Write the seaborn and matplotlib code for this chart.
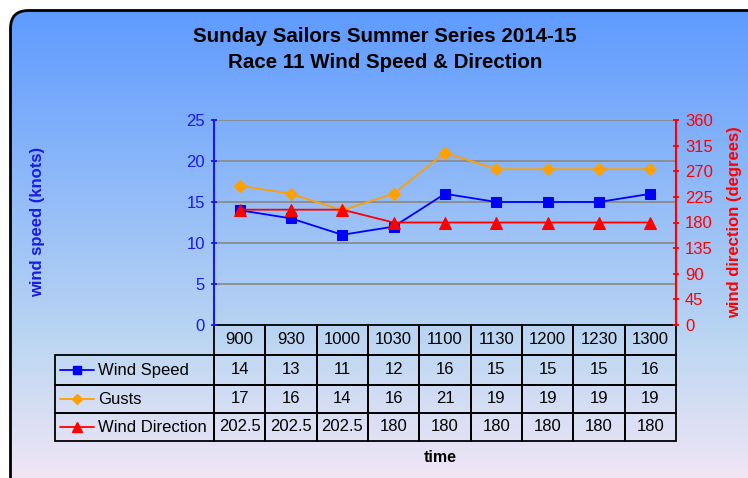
import numpy as np
import pandas as pd
import seaborn as sns
import matplotlib.pyplot as plt
from matplotlib.patches import FancyBboxPatch
from matplotlib.lines import Line2D
from matplotlib.table import Table

times = ["900", "930", "1000", "1030", "1100", "1130", "1200", "1230", "1300"]
wind_speed = [14, 13, 11, 12, 16, 15, 15, 15, 16]
gusts = [17, 16, 14, 16, 21, 19, 19, 19, 19]
wind_dir = [202.5, 202.5, 202.5, 180, 180, 180, 180, 180, 180]
series_names = ["Wind Speed", "Gusts", "Wind Direction"]

df = pd.DataFrame({"pos": range(len(times)), "time": times,
                   "speed": wind_speed, "gusts": gusts, "dir": wind_dir})

sns.set_style("white")
plt.rcParams["font.family"] = ["Liberation Sans", "DejaVu Sans"]
plt.rcParams["text.color"] = "black"

W, H = 748, 478
fig = plt.figure(figsize=(W / 100, H / 100), dpi=100)

# background with gradient inside a rounded border
bg = fig.add_axes([0, 0, 1, 1])
bg.set_xlim(0, W)
bg.set_ylim(H, 0)
bg.axis("off")
t = np.linspace(0, 1, 256)[:, None]
top = np.array([94, 154, 255]) / 255
mid = np.array([188, 214, 242]) / 255
bot = np.array([248, 232, 246]) / 255
grad = np.where(t < 0.68, top + (mid - top) * (t / 0.68), mid + (bot - mid) * ((t - 0.68) / 0.32))
grad = np.repeat(grad[:, None, :], 2, axis=1)
img = bg.imshow(grad, extent=[10, W + 20, H + 20, 10], aspect="auto", zorder=0)
box = FancyBboxPatch((10.5, 10.5), W + 30, H + 30, boxstyle="round,pad=0,rounding_size=18",
                     facecolor="none", edgecolor="black", linewidth=2, zorder=1)
bg.add_patch(box)
img.set_clip_path(box)

fig.text(385 / W, 1 - 37 / H, "Sunday Sailors Summer Series 2014-15", ha="center", va="center",
         fontsize=14.8, fontweight="bold")
fig.text(385 / W, 1 - 62 / H, "Race 11 Wind Speed & Direction", ha="center", va="center",
         fontsize=14.8, fontweight="bold")

# main plot area
L, R, T, B = 214, 676, 120, 325
ax = fig.add_axes([L / W, 1 - B / H, (R - L) / W, (B - T) / H])
ax.patch.set_alpha(0)
ax.set_xlim(-0.5, len(times) - 0.5)
ax.set_ylim(0, 25)
ax.set_yticks(range(0, 26, 5))
for y in range(5, 26, 5):
    ax.axhline(y, color="#8c8c8c", lw=1.3, zorder=0)

sns.lineplot(data=df, x="pos", y="speed", ax=ax, color="#0000ff", marker="s", markersize=7,
             markeredgecolor="#0000ff", lw=1.3, zorder=3)
sns.lineplot(data=df, x="pos", y="gusts", ax=ax, color="#ffa000", marker="D", markersize=6,
             markeredgecolor="#ffa000", lw=1.3, zorder=3)

ax2 = ax.twinx()
ax2.set_ylim(0, 360)
ax2.set_yticks(range(0, 361, 45))
sns.lineplot(data=df, x="pos", y="dir", ax=ax2, color="#ff0000", marker="^", markersize=8,
             markeredgecolor="#ff0000", lw=1.3, zorder=3)

ax.set_xticks([])
ax.set_xlabel("")
ax.set_ylabel("")
ax2.set_ylabel("")
for a in (ax, ax2):
    for s in a.spines.values():
        s.set_visible(False)
ax.spines["left"].set_visible(True)
ax.spines["left"].set_color("#1a1ae6")
ax.spines["left"].set_linewidth(1.5)
ax2.spines["right"].set_visible(True)
ax2.spines["right"].set_color("#ff0000")
ax2.spines["right"].set_linewidth(1.5)
ax.tick_params(axis="y", colors="#1a1ae6", labelsize=12, length=5, direction="inout", width=1.3, pad=4)
ax2.tick_params(axis="y", colors="#ff0000", labelsize=12, length=5, direction="inout", width=1.3, pad=4)
ax2.tick_params(axis="x", bottom=False, labelbottom=False)

fig.text(38 / W, 1 - 222 / H, "wind speed (knots)", rotation=90, ha="center", va="center",
         color="#1a1ae6", fontsize=12, fontweight="bold")
fig.text(735 / W, 1 - 222 / H, "wind direction (degrees)", rotation=90, ha="center", va="center",
         color="#ff0000", fontsize=12, fontweight="bold")

# data table
lab_w = L - 55
col_w = (R - L) / len(times)
heights = [30, 30, 28, 28]
tab = Table(ax, bbox=[(55 - L) / (R - L), -(sum(heights)) / (B - T), (R - 55) / (R - L), sum(heights) / (B - T)])
for j, tm in enumerate(times):
    tab.add_cell(0, j + 1, width=col_w, height=heights[0], text=tm, loc="center", facecolor="none")
rows = [wind_speed, gusts, wind_dir]
for i, (name, vals) in enumerate(zip(series_names, rows)):
    tab.add_cell(i + 1, 0, width=lab_w, height=heights[i + 1], text="", facecolor="none")
    for j, v in enumerate(vals):
        tab.add_cell(i + 1, j + 1, width=col_w, height=heights[i + 1], text=f"{v:g}", loc="center",
                     facecolor="none")
tab.auto_set_font_size(False)
tab.set_fontsize(12)
for cell in tab.get_celld().values():
    cell.set_edgecolor("black")
    cell.set_linewidth(1.3)
    cell.get_text().set_color("black")
ax.add_table(tab)

# legend keys inside the table row labels
styles = [("#0000ff", "s", 6), ("#ffa000", "D", 5), ("#ff0000", "^", 7)]
ycent = [370, 399, 427]
for (col, mk, ms), name, yc in zip(styles, series_names, ycent):
    bg.add_line(Line2D([60, 94], [yc, yc], color=col, lw=1.3, zorder=5))
    bg.plot([77], [yc], marker=mk, color=col, markersize=ms, zorder=6)
    bg.text(98, yc, name, ha="left", va="center", fontsize=12, zorder=6)
bg.set_xlim(0, W)
bg.set_ylim(H, 0)

fig.text(440 / W, 1 - 457 / H, "time", ha="center", va="center", fontsize=11.5, fontweight="bold")

fig.savefig("out.png", dpi=100)
